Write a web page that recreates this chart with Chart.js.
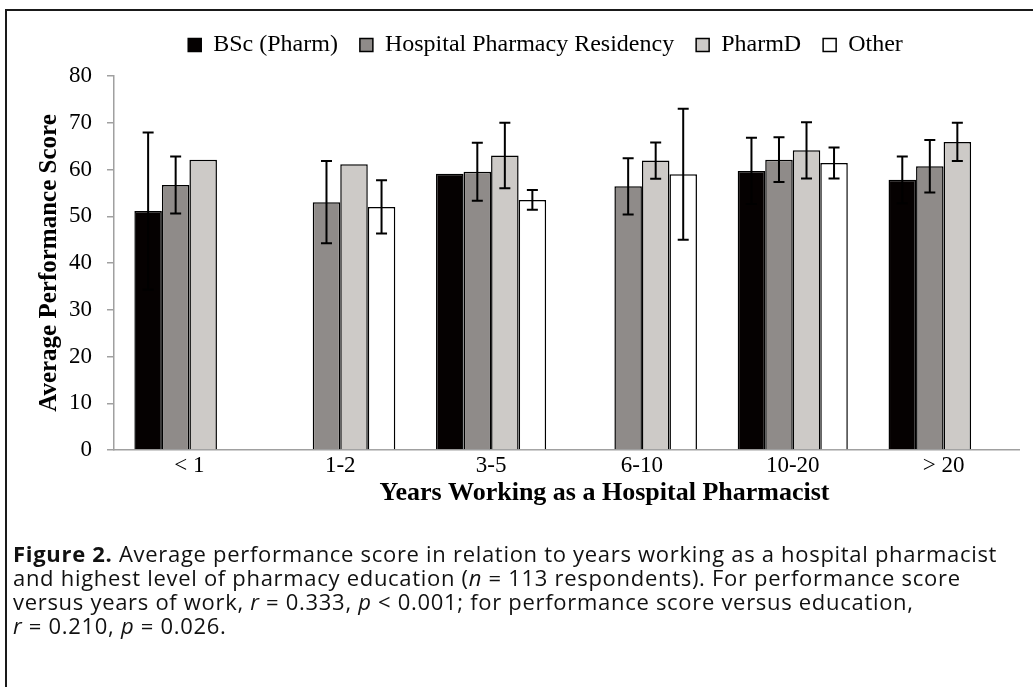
<!DOCTYPE html>
<html>
<head>
<meta charset="utf-8">
<script src="https://cdn.jsdelivr.net/npm/chart.js@4.4.1/dist/chart.umd.min.js"></script>
<style>
  html, body { margin: 0; padding: 0; background: #fff; overflow: hidden; }
  body { width: 1033px; height: 687px; position: relative; }
  .frame {
    position: absolute; left: 5px; top: 9px; width: 1100px; height: 700px;
    border-left: 2px solid #1a1a1a; border-top: 2px solid #1a1a1a;
  }
  .chart-wrap { position: absolute; left: 0; top: 0; width: 1033px; height: 540px; }
  .caption {
    position: absolute; left: 13px; top: 541px;
    font-family: 'Open Sans', sans-serif; font-size: 22px; line-height: 24px;
    letter-spacing: 0.7px; color: #111; white-space: nowrap;
  }
  .caption b { font-weight: 700; }
</style>
</head>
<body>
<div class="frame"></div>
<div class="chart-wrap"><canvas id="chart"></canvas></div>
<div class="caption">
  <b>Figure 2.</b> Average performance score in relation to years working as a hospital pharmacist<br>
  and highest level of pharmacy education (<i>n</i> = 113 respondents). For performance score<br>
  versus years of work, <i>r</i> = 0.333, <i>p</i> &lt; 0.001; for performance score versus education,<br>
  <i>r</i> = 0.210, <i>p</i> = 0.026.
</div>
<script>
const CATEGORIES = ['< 1', '1-2', '3-5', '6-10', '10-20', '> 20'];

const BSC = [51.1, null, 59.1, null, 59.7, 57.8];
const BSC_ERR = [16.8, null, null, null, 7.1, 5.0];

const RESIDENCY = [56.7, 53.0, 59.5, 56.4, 62.1, 60.7];
const RESIDENCY_ERR = [6.1, 8.8, 6.2, 6.0, 4.8, 5.6];

const PHARMD = [62.1, 61.1, 63.0, 61.9, 64.1, 65.9];
const PHARMD_ERR = [null, null, 7.0, 3.9, 6.0, 4.1];

const OTHER = [null, 52.0, 53.5, 59.0, 61.4, null];
const OTHER_ERR = [null, 5.7, 2.1, 14.0, 3.3, null];

const Y_TICKS = [0, 10, 20, 30, 40, 50, 60, 70, 80];

const X_TITLE = 'Years Working as a Hospital Pharmacist';

const SERIF = "'Liberation Serif', 'Times New Roman', serif";

// Error bars: drawn per bar from dataset.errors
const errorBars = {
  id: 'errorBars',
  afterDatasetsDraw(chart) {
    const ctx = chart.ctx;
    const y = chart.scales.y;
    ctx.save();
    ctx.strokeStyle = '#000';
    ctx.lineWidth = 2;
    chart.data.datasets.forEach((ds, di) => {
      const meta = chart.getDatasetMeta(di);
      meta.data.forEach((bar, i) => {
        const v = ds.data[i];
        const e = ds.errors[i];
        if (v == null || !e) return;
        const top = y.getPixelForValue(v + e);
        const bot = y.getPixelForValue(v - e);
        const cap = 5.5;
        ctx.beginPath();
        ctx.moveTo(bar.x, top);
        ctx.lineTo(bar.x, bot);
        ctx.moveTo(bar.x - cap, top);
        ctx.lineTo(bar.x + cap, top);
        ctx.moveTo(bar.x - cap, bot);
        ctx.lineTo(bar.x + cap, bot);
        ctx.stroke();
      });
    });
    ctx.restore();
  }
};

// nudge the legend so it sits where the original one does
const legendShift = {
  id: 'legendShift',
  afterLayout(chart) {
    const lg = chart.legend;
    if (!lg) return;
    lg.left -= 21;
    lg.right -= 21;
    lg.top -= 9;
    lg.bottom -= 9;
  }
};

// x axis title sits a bit right of the plot centre in the original
const xTitle = {
  id: 'xTitle',
  afterDraw(chart) {
    const { ctx, chartArea } = chart;
    ctx.save();
    ctx.font = `bold 26px ${SERIF}`;
    ctx.fillStyle = '#000';
    ctx.textAlign = 'center';
    ctx.textBaseline = 'middle';
    ctx.fillText(X_TITLE, (chartArea.left + chartArea.right) / 2 + 38, chartArea.bottom + 43);
    ctx.restore();
  }
};

const bar = (label, data, errors, color) => ({
  label,
  data,
  errors,
  backgroundColor: color,
  borderColor: '#000',
  borderWidth: 1.5,
  barPercentage: 1,
  categoryPercentage: 0.73,
});

new Chart(document.getElementById('chart'), {
  type: 'bar',
  data: {
    labels: CATEGORIES,
    datasets: [
      bar('BSc (Pharm)', BSC, BSC_ERR, '#050101'),
      bar('Hospital Pharmacy Residency', RESIDENCY, RESIDENCY_ERR, '#8f8b89'),
      bar('PharmD', PHARMD, PHARMD_ERR, '#cdcac7'),
      bar('Other', OTHER, OTHER_ERR, '#ffffff'),
    ],
  },
  options: {
    responsive: true,
    maintainAspectRatio: false,
    animation: false,
    layout: { padding: { top: 20, right: 14, left: 0, bottom: 0 } },
    plugins: {
      legend: {
        display: true,
        position: 'top',
        fullSize: false,
        labels: {
          color: '#000',
          font: { family: SERIF, size: 24 },
          boxWidth: 13,
          boxHeight: 13,
          padding: 22,
        },
      },
      tooltip: { enabled: false },
    },
    scales: {
      x: {
        grid: { display: false, drawTicks: false },
        border: { display: true, color: '#a0a0a0', width: 1.5 },
        ticks: {
          color: '#000',
          padding: 4,
          font: { family: SERIF, size: 23, lineHeight: 1 },
        },
        afterFit(scale) { scale.height = 90; },
      },
      y: {
        min: 0,
        max: 80,
        afterBuildTicks(scale) { scale.ticks = Y_TICKS.map(v => ({ value: v })); },
        grid: { drawOnChartArea: false, color: '#a0a0a0', tickLength: 7, lineWidth: 1.5 },
        border: { display: true, color: '#a0a0a0', width: 1.5 },
        ticks: {
          color: '#000',
          padding: 15,
          font: { family: SERIF, size: 23, lineHeight: 1 },
        },
        title: {
          display: true,
          text: 'Average Performance Score',
          color: '#000',
          font: { family: SERIF, size: 25, weight: 'bold', lineHeight: 1 },
          padding: { top: 37, bottom: 0 },
        },
        afterFit(scale) { scale.width = 114; },
      },
    },
  },
  plugins: [errorBars, legendShift, xTitle],
});
</script>
</body>
</html>
